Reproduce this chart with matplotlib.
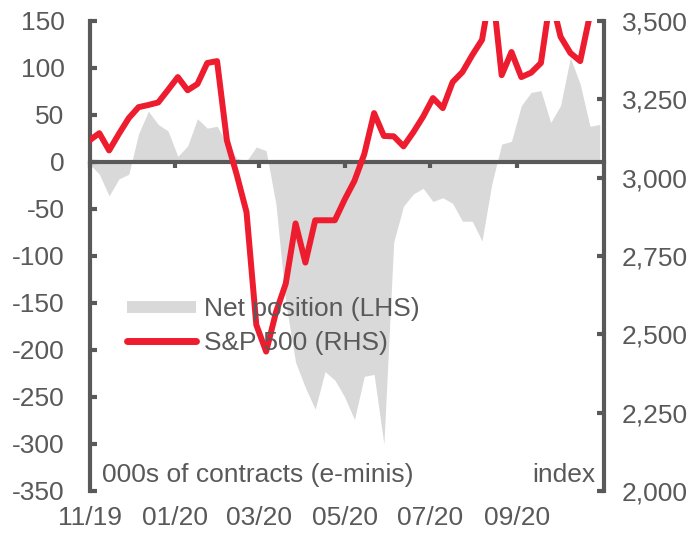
import pandas as pd
import matplotlib
matplotlib.use('Agg')
import matplotlib.pyplot as plt
import matplotlib.dates as mdates
from matplotlib.lines import Line2D
from matplotlib.ticker import FuncFormatter, FixedLocator

plt.rcParams['font.family'] = ['Liberation Sans', 'DejaVu Sans']

# weekly data
dates = pd.date_range('2019-11-01', periods=53, freq='7D')

# net position in S&P e-mini futures, 000s of contracts (LHS)
net_pos = [-2, -13, -36, -18, -13, 30, 54, 40, 33, 6,
           17, 46, 36, 38, 20, 4, 1, 16, 12, -45,
           -150, -213, -240, -263, -223, -232, -250, -274, -228, -226,
           -300, -85, -47, -34, -28, -42, -38, -44, -63, -63,
           -84, -23, 19, 22, 60, 74, 76, 42, 60, 111,
           83, 38, 40]

# S&P 500 index (RHS)
sp500 = [3119, 3142, 3087, 3140, 3190, 3225, 3232, 3240, 3280, 3321,
         3279, 3299, 3366, 3372, 3119, 3010, 2890, 2530, 2445, 2570,
         2662, 2854, 2729, 2864, 2864, 2864, 2930, 2990, 3075, 3206,
         3133, 3132, 3100, 3145, 3195, 3254, 3222, 3305, 3337, 3391,
         3440, 3620, 3327, 3401, 3321, 3335, 3366, 3580, 3450, 3398,
         3372, 3520, 3530]

month_ticks = pd.to_datetime(['2019-11-01', '2020-01-01', '2020-03-01',
                              '2020-05-01', '2020-07-01', '2020-09-01'])
left_ticks = list(range(-350, 151, 50))
right_ticks = list(range(2000, 3501, 250))
labels = ['Net position (LHS)', 'S&P 500 (RHS)']

GRAY = '#d9d9d9'
RED = '#ee1c2f'
AXC = '#595959'
TXT = '#595959'
FS = 19

fig = plt.figure(figsize=(6.96, 5.35), dpi=100)
ax = fig.add_axes([89.5 / 696, 44 / 535, 514.5 / 696, 470 / 535])

ax.fill_between(dates, net_pos, 0, color=GRAY, lw=0)
ax.set_xlim(dates[0], pd.Timestamp('2020-11-02'))
ax.set_ylim(-350, 150)
ax.set_yticks(left_ticks)
ax.yaxis.set_major_formatter(FuncFormatter(lambda v, p: f'{v:.0f}'))

for s in ['top', 'right']:
    ax.spines[s].set_visible(False)
ax.spines['left'].set_color(AXC)
ax.spines['left'].set_linewidth(3)
ax.spines['bottom'].set_position(('data', 0))
ax.spines['bottom'].set_color(AXC)
ax.spines['bottom'].set_linewidth(3)

tick_nums = mdates.date2num(month_ticks)
ax.xaxis.set_major_locator(FixedLocator(tick_nums))
ax.tick_params(axis='x', direction='out', length=4.5, width=3, color=AXC,
               labelbottom=False)
ax.tick_params(axis='y', direction='in', length=5, width=3, color=AXC,
               labelcolor=TXT, labelsize=FS, pad=18)

# date labels sit at the bottom, not on the zero line
secax = ax.secondary_xaxis('bottom')
secax.xaxis.set_major_locator(FixedLocator(tick_nums))
secax.xaxis.set_major_formatter(mdates.DateFormatter('%m/%y'))
for s in secax.spines.values():
    s.set_visible(False)
secax.tick_params(length=0, pad=11, labelsize=FS, labelcolor=TXT)

ax2 = ax.twinx()
ax2.plot(dates, sp500, color=RED, lw=4.3, solid_joinstyle='round',
         solid_capstyle='round')
ax2.set_ylim(2000, 3500)
ax2.set_yticks(right_ticks)
ax2.yaxis.set_major_formatter(FuncFormatter(lambda v, p: f'{v:,.0f}'))
for s in ['top', 'left', 'bottom']:
    ax2.spines[s].set_visible(False)
ax2.spines['right'].set_color(AXC)
ax2.spines['right'].set_linewidth(3)
ax2.tick_params(axis='y', direction='in', length=5, width=3, color=AXC,
                labelcolor=TXT, labelsize=FS, pad=13)

handles = [Line2D([], [], color=GRAY, lw=8.6, solid_capstyle='butt'),
           Line2D([], [], color=RED, lw=5, solid_capstyle='round')]
ax2.legend(handles, labels, loc='upper left',
           bbox_to_anchor=(127 / 696, 1 - 297 / 535),
           bbox_transform=fig.transFigure, frameon=False,
           borderpad=0, borderaxespad=0, handlelength=2.6,
           handletextpad=0.3, labelspacing=0.38, fontsize=FS,
           labelcolor=TXT)

ax2.text(0.0243, 0.019, '000s of contracts (e-minis)', transform=ax.transAxes,
         fontsize=FS, color=TXT, va='baseline')
ax2.text(0.984, 0.019, 'index', transform=ax.transAxes, fontsize=FS,
         color=TXT, va='baseline', ha='right')

fig.savefig('out.png', dpi=100)
